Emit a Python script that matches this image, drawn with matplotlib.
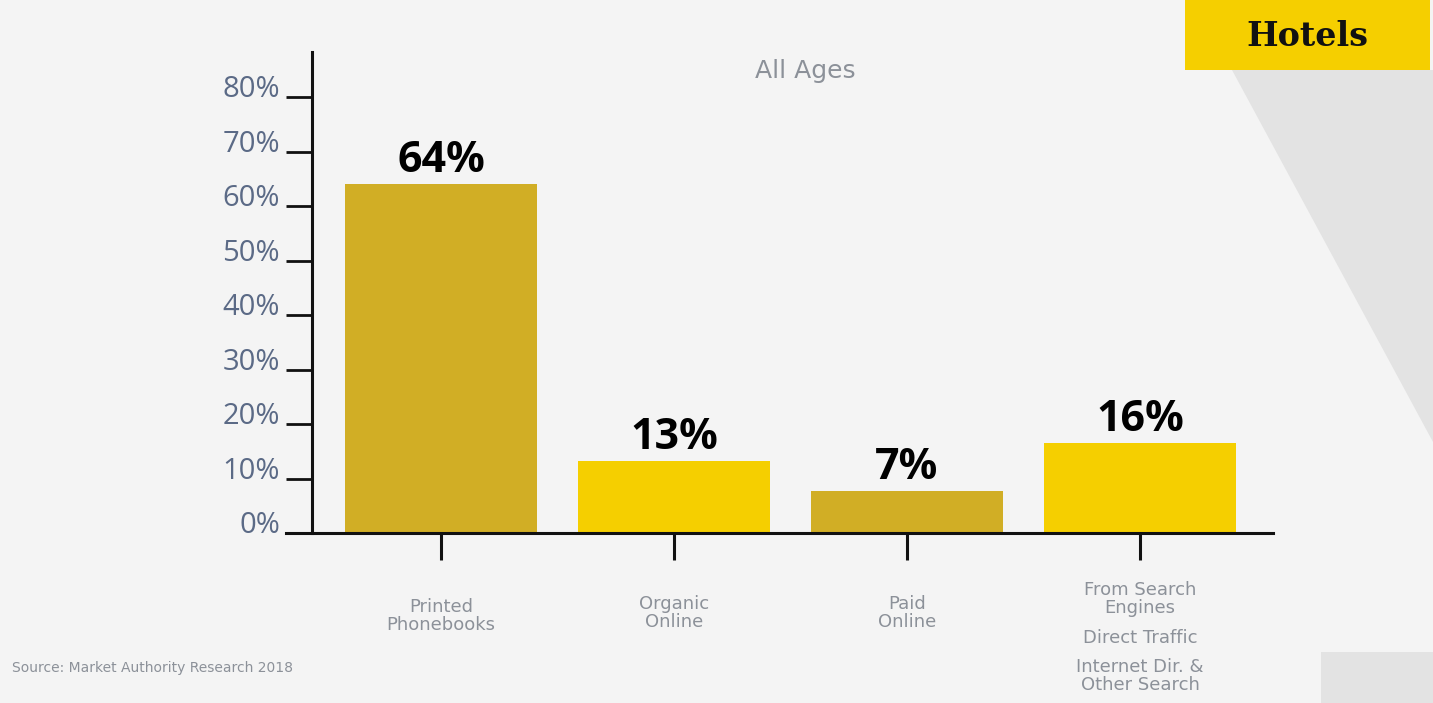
import matplotlib
matplotlib.use("Agg")
import matplotlib.pyplot as plt
from matplotlib.patches import Rectangle, Polygon

# data
categories = ["Printed\nPhonebooks", "Organic\nOnline", "Paid\nOnline", "From Search\nEngines"]
extra_labels = ["Direct Traffic", "Internet Dir. &\nOther Search"]   # under the last bar
values = [64, 13.2, 7.7, 16.5]
value_labels = ["64%", "13%", "7%", "16%"]
yticks = [0, 10, 20, 30, 40, 50, 60, 70, 80]
ytick_labels = ["0%", "10%", "20%", "30%", "40%", "50%", "60%", "70%", "80%"]

bg = "#F4F4F4"
dark_gold = "#D1AE25"
yellow = "#F5CF00"
grey_text = "#8C9199"

fig = plt.figure(figsize=(14.33, 7.03), dpi=100, facecolor=bg)

# background decorations (pixel coords -> figure fraction)
W, H = 1433, 703
def fp(x, y):
    return (x / W, 1 - y / H)

fig.add_artist(Polygon([fp(1232, 70), fp(1433, 70), fp(1433, 442)], closed=True,
                       transform=fig.transFigure, facecolor="#E3E3E3", edgecolor="none"))
fig.add_artist(Rectangle(fp(1321, 703), 112 / W, 51 / H, transform=fig.transFigure,
                         facecolor="#E3E3E3", edgecolor="none"))
fig.add_artist(Rectangle(fp(1185, 70), 245 / W, 70 / H, transform=fig.transFigure,
                         facecolor=yellow, edgecolor="none"))
fig.text(1307 / W, 1 - 36 / H, "Hotels", ha="center", va="center", fontsize=24,
         fontweight="bold", family="DejaVu Serif", color="#111111")

ax = fig.add_axes([286 / W, 170 / H, 987 / W, 481 / H])
ax.set_facecolor("none")

x = list(range(len(values)))
colors = [dark_gold, yellow, dark_gold, yellow]
ax.bar(x, values, width=0.824, color=colors, zorder=2)

ax.set_xlim(-0.665, 3.571)
ax.set_ylim(0, 88.3)

for s in ["top", "right"]:
    ax.spines[s].set_visible(False)
ax.spines["left"].set_position(("data", -0.554))
for s in ["left", "bottom"]:
    ax.spines[s].set_linewidth(2.2)
    ax.spines[s].set_color("#111111")
    ax.spines[s].set_zorder(3)

ax.set_yticks(yticks)
ax.set_yticklabels(ytick_labels, family="Open Sans", fontsize=21, color="#5B6A86")
for lab in ax.get_yticklabels():
    lab.set_va("baseline")
ax.tick_params(axis="y", direction="out", length=19, width=2, color="#111111", pad=4)

ax.set_xticks(x)
ax.tick_params(axis="x", direction="out", length=19.5, width=2.2, color="#111111",
               labelbottom=False)

# value labels above bars
for xi, v, lab in zip(x, values, value_labels):
    ax.annotate(lab, xy=(xi, v), xytext=(0, 12), textcoords="offset pixels",
                ha="center", va="baseline", family="Open Sans", fontweight="bold",
                fontsize=31, color="black")

# category labels under the axis
offsets = [-65, -62, -62, -48]
for xi, cat, off in zip(x, categories, offsets):
    ax.annotate(cat, xy=(xi, 0), xytext=(0, off), textcoords="offset pixels",
                ha="center", va="top", fontsize=13, color=grey_text, linespacing=1.0)
for lab, off in zip(extra_labels, [-96, -125]):
    ax.annotate(lab, xy=(x[-1], 0), xytext=(0, off), textcoords="offset pixels",
                ha="center", va="top", fontsize=13, color=grey_text, linespacing=1.0)

fig.text(805 / W, 1 - 71 / H, "All Ages", ha="center", va="center", fontsize=18,
         color=grey_text)
fig.text(12 / W, 1 - 668 / H, "Source: Market Authority Research 2018", ha="left",
         va="center", fontsize=10, color=grey_text)

fig.savefig("out.png", dpi=100, facecolor=bg)
